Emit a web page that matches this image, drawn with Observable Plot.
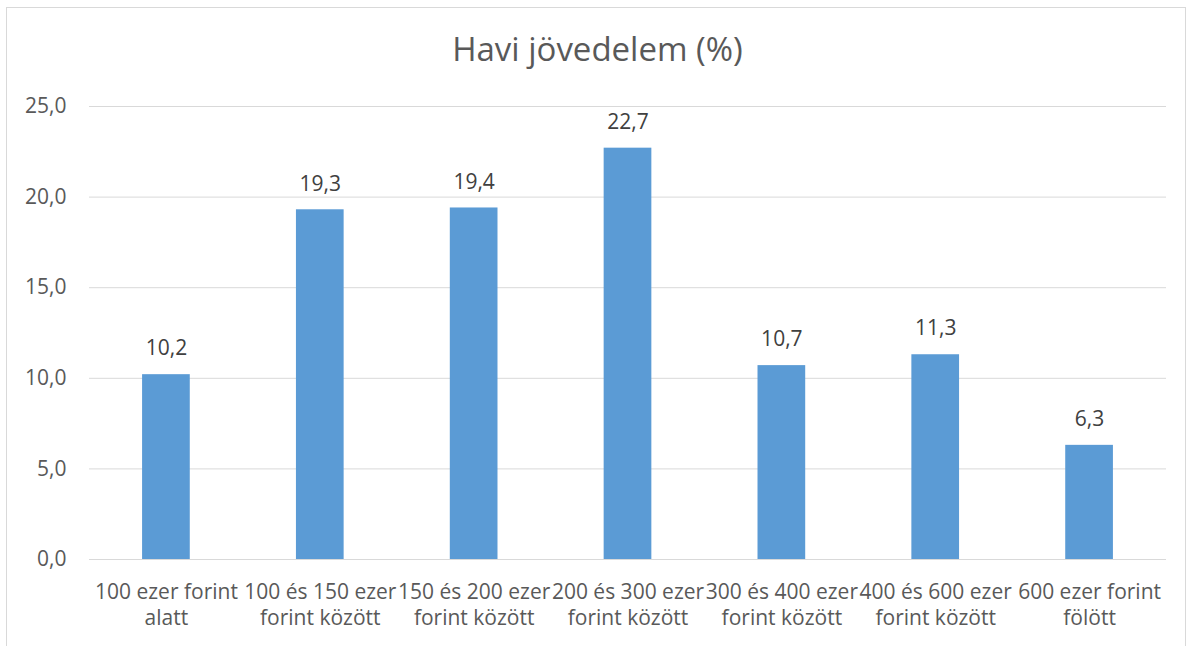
<!DOCTYPE html>
<html><head><meta charset="utf-8">
<script src="https://cdn.jsdelivr.net/npm/d3@7"></script>
<script src="https://cdn.jsdelivr.net/npm/@observablehq/plot@0.6"></script>
<style>
body{margin:0;background:#fff;font-family:"Open Sans",sans-serif;}
#frame{position:absolute;left:6px;top:7px;width:1180px;height:700px;border:1px solid #D9D9D9;box-sizing:border-box;}
#title{position:absolute;left:0;top:27px;width:1195px;text-align:center;font-size:33px;line-height:44px;color:#595959;}
#chart{position:absolute;left:0;top:90px;}
</style></head>
<body>
<div id="frame"></div>
<div id="title">Havi jövedelem (%)</div>
<div id="chart"></div>
<script>
const categories = ["100 ezer forint\nalatt","100 és 150 ezer\nforint között","150 és 200 ezer\nforint között","200 és 300 ezer\nforint között","300 és 400 ezer\nforint között","400 és 600 ezer\nforint között","600 ezer forint\nfölött"];
const values = [10.2, 19.3, 19.4, 22.7, 10.7, 11.3, 6.3];
const yTicks = [0, 5, 10, 15, 20, 25];

const data = categories.map((c, i) => ({cat: c, val: values[i]}));
const fmt = v => d3.format(".1f")(v).replace(".", ",");

const chart = Plot.plot({
  width: 1195,
  height: 556,
  marginLeft: 89,
  marginRight: 29,
  marginTop: 16,
  marginBottom: 87,
  style: {fontFamily: "'Open Sans', sans-serif", fontSize: "21px", color: "#595959", background: "transparent", overflow: "visible"},
  x: {domain: categories, paddingInner: 0.69, paddingOuter: 0.345, round: false, label: null},
  y: {domain: [0, 25], label: null},
  marks: [
    Plot.ruleY(yTicks, {stroke: "#D9D9D9", strokeWidth: 1}),
    Plot.barY(data, {x: "cat", y: "val", fill: "#5B9BD5"}),
    Plot.text(data, {x: "cat", y: "val", text: d => fmt(d.val), dy: -26, fill: "#404040", fontSize: 21}),
    Plot.axisX({tickSize: 0, tickPadding: 21, lineHeight: 1.24, fontSize: 21, fill: "#595959"}),
    Plot.axisY({ticks: yTicks, tickFormat: fmt, tickSize: 0, tickPadding: 23, fontSize: 21, fill: "#595959"})
  ]
});
document.getElementById("chart").appendChild(chart);
</script>
</body></html>
